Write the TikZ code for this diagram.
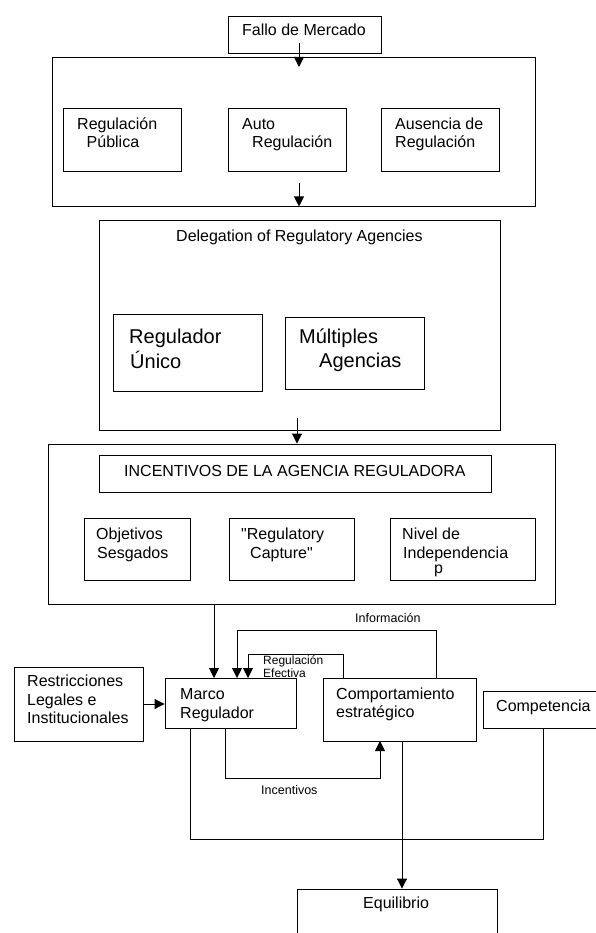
\documentclass[tikz,border=0pt]{standalone}
\usepackage{fontspec}
\setmainfont{Liberation Sans}
\newfontfamily\plainsans{Liberation Sans}
\usetikzlibrary{arrows.meta,fit}
\begin{document}
\begin{tikzpicture}[x=1pt,y=-1pt,
  box/.style={draw, line width=0.9pt, inner sep=0pt, rectangle},
  txt/.style={anchor=base west, inner sep=0pt, font=\fontsize{16}{19}\selectfont},
  qtxt/.style={anchor=base west, inner sep=0pt, font=\plainsans\fontsize{16}{19}\selectfont},
  bigtxt/.style={txt, font=\fontsize{20}{24}\selectfont},
  smalltxt/.style={txt, font=\fontsize{12.5}{14}\selectfont},
  tinytxt/.style={txt, font=\fontsize{12}{13}\selectfont},
  conn/.style={line width=0.9pt},
  arr/.style={conn, -{Triangle[length=10pt,width=10pt]}}
]
\useasboundingbox (0,0) rectangle (595,933);
\fill[white] (0,0) rectangle (595,933);

% ---------- boxes ----------
\node[box, fit={(228,16) (381,53)}] (fallo) {};
\node[box, fit={(52,57) (535,206)}] (tipos) {};
\node[box, fit={(63,108) (181,171)}] (publica) {};
\node[box, fit={(228,108) (346,171)}] (auto) {};
\node[box, fit={(381,108) (499,171)}] (ausencia) {};
\node[box, fit={(99,220) (500,430)}] (deleg) {};
\node[box, fit={(113,314) (262,391)}] (unico) {};
\node[box, fit={(285,317) (424,389)}] (multi) {};
\node[box, fit={(48,444) (555,604)}] (incent) {};
\node[box, fit={(99,455) (491,492)}] (incentit) {};
\node[box, fit={(84,518) (190,580)}] (objet) {};
\node[box, fit={(229,518) (354,580)}] (capture) {};
\node[box, fit={(390,518) (535,580)}] (nivel) {};
\node[box, fit={(14,667) (143,741)}] (restr) {};
\node[box, fit={(165,678) (296,728)}] (marco) {};
\node[box, fit={(323,678) (476,741)}] (comp) {};
\node[box, fit={(483,691) (602,728)}] (compet) {};
\node[box, fit={(297,889) (497,945)}] (equil) {};

% ---------- texts ----------
\node[txt] (tfallo) at (242,36) {Fallo de Mercado};
\node[txt] (tpub1) at (77,130) {Regulación};
\node[txt] (tpub2) at (86.5,148) {Pública};
\node[txt] (taut1) at (242,129.5) {Auto};
\node[txt] (taut2) at (252,148) {Regulación};
\node[txt] (taus1) at (395,129.5) {Ausencia de};
\node[txt] (taus2) at (395,148) {Regulación};
\node[txt] (tdeleg) at (176,241) {Delegation of Regulatory Agencies};
\node[bigtxt] (tuni1) at (129,343) {Regulador};
\node[bigtxt] (tuni2) at (130,368) {Único};
\node[bigtxt] (tmul1) at (299,343) {Múltiples};
\node[bigtxt] (tmul2) at (319,367) {Agencias};
\node[txt] (tinc) at (124,476) {INCENTIVOS DE LA AGENCIA REGULADORA};
\node[txt] (tobj1) at (96,539) {Objetivos};
\node[txt] (tobj2) at (97,558) {Sesgados};
\node[qtxt] (tcap1) at (241,539) {"Regulatory};
\node[qtxt] (tcap2) at (250,558) {Capture"};
\node[txt] (tniv1) at (402,539) {Nivel de};
\node[txt] (tniv2) at (403,558) {Independencia};
\node[txt] (tniv3) at (434,573) {p};
\node[smalltxt] (tinfo) at (355,622) {Información};
\node[tinytxt] (treg1) at (263,664) {Regulación};
\node[tinytxt] (treg2) at (263,677) {Efectiva};
\node[txt] (tres1) at (27,686) {Restricciones};
\node[txt] (tres2) at (27,705) {Legales e};
\node[txt] (tres3) at (27,723) {Institucionales};
\node[txt] (tmar1) at (180,699) {Marco};
\node[txt] (tmar2) at (180,718) {Regulador};
\node[txt] (tcom1) at (336,699) {Comportamiento};
\node[txt] (tcom2) at (336,717) {estratégico};
\node[txt] (tcpt) at (496,711) {Competencia};
\node[smalltxt] (tincv) at (261,794) {Incentivos};
\node[txt] (tequ) at (363,908) {Equilibrio};

% ---------- helper coordinates ----------
\coordinate (f1) at (299,43);
\coordinate (f2) at (299,67);
\coordinate (t1) at (299,183);
\coordinate (d1) at (297,418);
\coordinate (mA) at (214,678);
\coordinate (mI) at (237,678);
\coordinate (mR) at (248,678);
\coordinate (cI) at (436,678);
\coordinate (cR) at (343,678);
\coordinate (infotop) at (0,630);
\coordinate (regtop) at (0,654);
\coordinate (ry) at (0,704);
\coordinate (mB) at (225,728);
\coordinate (mL) at (190,728);
\coordinate (cB) at (380,741);
\coordinate (cE) at (402,741);
\coordinate (kB) at (543,728);
\coordinate (incbot) at (0,778);
\coordinate (loopbot) at (0,839);

% ---------- connectors ----------
\draw[arr] (f1) -- (f2);
\draw[arr] (t1) -- (t1 |- tipos.south);
\draw[arr] (d1) -- (d1 |- incent.north);
\draw[arr] (mA |- incent.south) -- (mA);
\draw[arr] (cI) -- (cI |- infotop) -- (mI |- infotop) -- (mI);
\draw[arr] (cR) -- (cR |- regtop) -- (mR |- regtop) -- (mR);
\draw[arr] (restr.east |- ry) -- (marco.west |- ry);
\draw[arr] (mB) -- (mB |- incbot) -- (cB |- incbot) -- (cB);
\draw[conn] (mL) -- (mL |- loopbot) -- (kB |- loopbot) -- (kB);
\draw[arr] (cE) -- (cE |- equil.north);
\end{tikzpicture}
\end{document}
